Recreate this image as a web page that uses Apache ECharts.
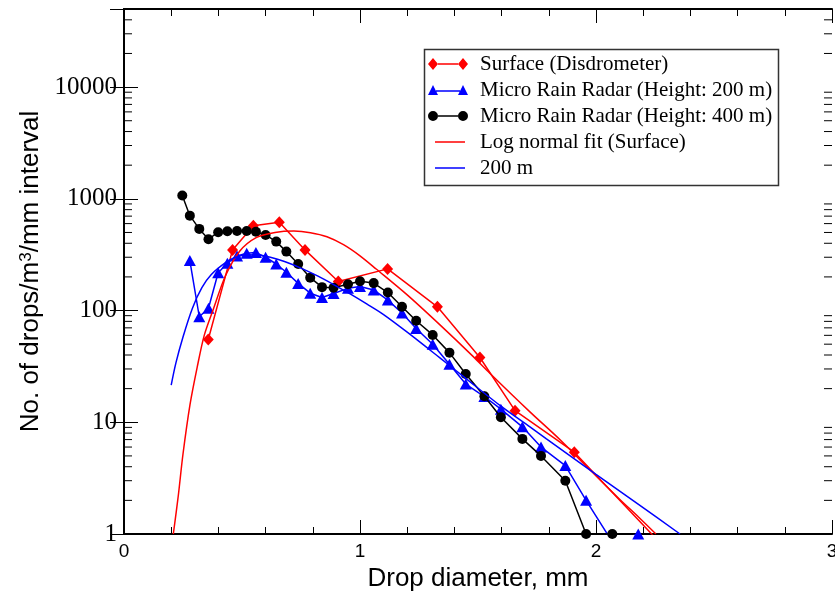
<!DOCTYPE html>
<html><head><meta charset="utf-8">
<script src="https://cdn.jsdelivr.net/npm/echarts@6/dist/echarts.min.js"></script>
<style>html,body{margin:0;padding:0;background:#fff}#c{width:835px;height:591px}</style>
</head><body><div id="c"></div>
<script>
// ---- data ----
const surfaceD = [0.357, 0.46, 0.548, 0.658, 0.767, 0.908, 1.117, 1.328, 1.508, 1.657, 1.908, 2.4];
const surfaceN = [55, 349, 575, 617, 349, 182, 236, 108, 38, 12.7, 5.4, 0.43];

const mrrD = [0.247, 0.279, 0.319, 0.358, 0.399, 0.438, 0.479, 0.52, 0.559, 0.60, 0.645, 0.688, 0.738, 0.789, 0.839, 0.888, 0.949, 1.0, 1.058, 1.118, 1.178, 1.238, 1.308, 1.379, 1.448, 1.527, 1.597, 1.688, 1.767, 1.87, 1.958, 2.069, 2.179];
const mrr200N = [null, 280, 88, 105, 218, 265, 308, 326, 330, 300, 261, 220, 175, 143, 131, 142, 158, 164, 153, 124, 95, 69, 50, 33, 22, 17, 13.1, 9.1, 6.0, 4.1, 2.0, 0.85, 1.0];
const mrr400N = [1069, 707, 538, 435, 502, 513, 516, 516, 508, 475, 414, 337, 261, 197, 162, 160, 172, 183, 176, 145, 108, 81, 60.5, 42, 27, 17.1, 11.1, 7.1, 5.0, 3.0, 1.0, 1.0, null];

const fitSurfD = [0.209, 0.23, 0.25, 0.28, 0.31, 0.34, 0.38, 0.43, 0.49, 0.56, 0.64, 0.72, 0.79, 0.86, 0.93, 1.0, 1.07, 1.2, 1.34, 1.48, 1.55, 1.72, 1.85, 1.975, 2.1, 2.18, 2.254];
const fitSurfN = [1.0, 2.2, 5.2, 14.5, 31, 60, 105, 205, 340, 450, 500, 515, 498, 458, 389, 309, 234, 138, 74, 38.7, 27.5, 12.4, 6.9, 3.74, 2.05, 1.42, 1.0];

const fit200D = [0.2, 0.22, 0.25, 0.29, 0.33, 0.37, 0.43, 0.47, 0.52, 0.57, 0.62, 0.68, 0.75, 0.82, 0.89, 0.96, 1.03, 1.1, 1.2, 1.34, 1.44, 1.6, 1.72, 1.79, 2.0, 2.18, 2.356];
const fit200N = [21.5, 34, 58, 105, 160, 210, 268, 298, 316, 314, 300, 275, 240, 204, 170, 140, 114, 92, 64, 37.5, 25.5, 13.8, 9.1, 7.1, 3.42, 1.84, 1.0];

const seriesNames = ['Surface (Disdrometer)', 'Micro Rain Radar (Height: 200 m)', 'Micro Rain Radar (Height: 400 m)', 'Log normal fit (Surface)', '200 m'];
const xTickValues = [0, 1, 2, 3];
const yMinorTicks = [2,3,4,5,6,7,8,9, 20,30,40,50,60,70,80,90, 200,300,400,500,600,700,800,900, 2000,3000,4000,5000,6000,7000,8000,9000, 20000,30000,40000];

// ---- build ----
const zip = (xs, ys) => xs.map((x, i) => [x, ys[i]]);
// legend icons, 40 x 12 box: marker - line - marker (no overlap between parts)
const diamondIcon = 'path://M0,6 L5,0 L10,6 L5,12 Z M10,5.3 L30,5.3 L30,6.7 L10,6.7 Z M30,6 L35,0 L40,6 L35,12 Z';
const triIcon = 'path://M0,11 L5,1 L10,11 Z M8,6.3 L32,6.3 L32,7.7 L8,7.7 Z M30,11 L35,1 L40,11 Z';
const circIcon = 'path://M0,6 A5,5 0 1,1 10,6 A5,5 0 1,1 0,6 Z M10,5.3 L30,5.3 L30,6.7 L10,6.7 Z M30,6 A5,5 0 1,1 40,6 A5,5 0 1,1 30,6 Z M0,0 L0.01,0 Z M40,12 L39.99,12 Z';

const axisLine = {show: true, lineStyle: {color: '#000', width: 2}};
const tickStyle = {color: '#000', width: 1};
const isPow10 = v => { const l = Math.log10(v); return Math.abs(l - Math.round(l)) < 1e-9; };

const chart = echarts.init(document.getElementById('c'), null, {renderer: 'canvas'});
chart.setOption({
  animation: false,
  backgroundColor: '#fff',
  grid: {left: 124, right: 3, top: 9, bottom: 57, containLabel: false, outerBoundsMode: 'none'},
  xAxis: [{
    type: 'value', min: xTickValues[0], max: xTickValues[xTickValues.length - 1], interval: 1,
    position: 'bottom',
    axisLine: axisLine,
    axisTick: {show: true, inside: true, length: 14, lineStyle: tickStyle},
    minorTick: {show: true, splitNumber: 5, length: 7, lineStyle: tickStyle},
    splitLine: {show: false},
    axisLabel: {color: '#000', fontFamily: 'Liberation Sans', fontSize: 19, margin: 8},
    name: 'Drop diameter, mm', nameLocation: 'middle', nameGap: 26,
    nameTextStyle: {color: '#000', fontFamily: 'Liberation Sans', fontSize: 26}
  }, {
    type: 'value', min: xTickValues[0], max: xTickValues[xTickValues.length - 1], interval: 1,
    position: 'top',
    axisLine: axisLine,
    axisTick: {show: true, inside: true, length: 14, lineStyle: tickStyle},
    minorTick: {show: true, splitNumber: 5, length: 7, lineStyle: tickStyle},
    splitLine: {show: false},
    axisLabel: {show: false}
  }],
  yAxis: [{
    type: 'log', logBase: 10, min: 1, max: 50000, position: 'left',
    axisLine: axisLine,
    axisTick: {show: true, inside: true, length: 14, lineStyle: tickStyle},
    splitLine: {show: false},
    axisLabel: {color: '#000', fontFamily: 'Liberation Serif', fontSize: 25, margin: 7,
      formatter: v => isPow10(v) ? String(Math.round(v)) : ''},
    name: 'No. of drops/m{sup|3}/mm interval', nameLocation: 'middle', nameRotate: 90, nameGap: 79,
    nameTextStyle: {color: '#000', fontFamily: 'Liberation Sans', fontSize: 26,
      rich: {sup: {fontFamily: 'Liberation Sans', fontSize: 17, color: '#000', verticalAlign: 'top', lineHeight: 17}}}
  }, {
    type: 'log', logBase: 10, min: 1, max: 50000, position: 'right',
    axisLine: axisLine,
    axisTick: {show: true, inside: true, length: 14, lineStyle: tickStyle},
    splitLine: {show: false},
    axisLabel: {show: false}
  }],
  legend: [{
    orient: 'vertical', left: 428, top: 53.5, padding: 0, itemGap: 5,
    itemWidth: 40, itemHeight: 12, selectedMode: false,
    data: [
      {name: seriesNames[0], icon: diamondIcon},
      {name: seriesNames[1], icon: triIcon},
      {name: seriesNames[2], icon: circIcon}
    ],
    textStyle: {color: '#000', fontFamily: 'Liberation Serif', fontSize: 21, lineHeight: 21, padding: [0, 0, 0, 7]}
  }, {
    orient: 'vertical', left: 435, top: 131.5, padding: 0, itemGap: 5,
    itemWidth: 30, itemHeight: 1.5, selectedMode: false,
    data: [
      {name: seriesNames[3], icon: 'rect'},
      {name: seriesNames[4], icon: 'rect'}
    ],
    textStyle: {color: '#000', fontFamily: 'Liberation Serif', fontSize: 21, lineHeight: 21, padding: [0, 0, 0, 10]}
  }],
  graphic: [{
    type: 'rect', left: 422, top: 47, z: 100, silent: true,
    shape: {width: 354, height: 136},
    style: {fill: 'none', stroke: '#333', lineWidth: 1.5}
  }],
  series: [{
    name: seriesNames[0], type: 'line', data: zip(surfaceD, surfaceN),
    symbol: 'diamond', symbolSize: [11, 12], color: '#ff0000',
    lineStyle: {color: '#ff0000', width: 1.5}, itemStyle: {color: '#ff0000', borderWidth: 0},
    emphasis: {disabled: true}, z: 3, clip: true
  }, {
    name: seriesNames[1], type: 'line', data: zip(mrrD, mrr200N),
    symbol: 'triangle', symbolSize: [12, 11], color: '#0000ff',
    lineStyle: {color: '#0000ff', width: 1.5}, itemStyle: {color: '#0000ff', borderWidth: 0},
    emphasis: {disabled: true}, z: 4, clip: true
  }, {
    name: seriesNames[2], type: 'line', data: zip(mrrD, mrr400N),
    symbol: 'circle', symbolSize: 10, color: '#000000',
    lineStyle: {color: '#000', width: 1.5}, itemStyle: {color: '#000', borderWidth: 0},
    emphasis: {disabled: true}, z: 5, clip: true
  }, {
    name: seriesNames[3], type: 'line', data: zip(fitSurfD, fitSurfN),
    showSymbol: false, symbol: 'none', smooth: 0.3, color: '#ff0000',
    lineStyle: {color: '#ff0000', width: 1.5}, itemStyle: {color: '#ff0000'},
    emphasis: {disabled: true}, z: 6, clip: true
  }, {
    name: seriesNames[4], type: 'line', data: zip(fit200D, fit200N),
    showSymbol: false, symbol: 'none', smooth: 0.3, color: '#0000ff',
    lineStyle: {color: '#0000ff', width: 1.5}, itemStyle: {color: '#0000ff'},
    emphasis: {disabled: true}, z: 6, clip: true
  }, {
    name: 'yMinorTicks', type: 'custom', silent: true, z: 10, clip: false,
    data: yMinorTicks.map(v => [xTickValues[0], v]),
    renderItem: (params, api) => {
      const v = api.value(1);
      const L = api.coord([xTickValues[0], v]);
      const R = api.coord([xTickValues[xTickValues.length - 1], v]);
      return {type: 'group', children: [
        {type: 'line', shape: {x1: L[0], y1: L[1], x2: L[0] + 8, y2: L[1]}, style: {stroke: '#000', lineWidth: 1}},
        {type: 'line', shape: {x1: R[0] - 8, y1: R[1], x2: R[0], y2: R[1]}, style: {stroke: '#000', lineWidth: 1}}
      ]};
    }
  }]
});
</script></body></html>
